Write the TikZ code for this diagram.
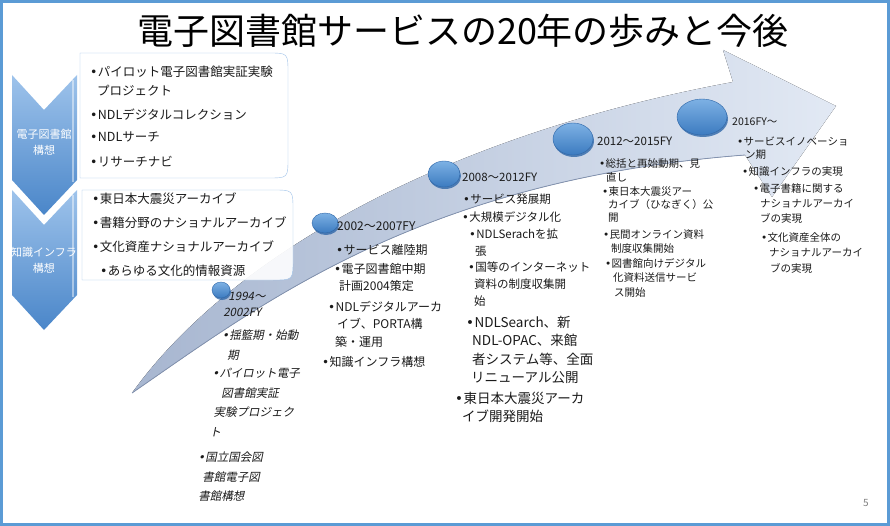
\documentclass[tikz,border=0pt]{standalone}
\usepackage{fontspec}
\setmainfont{Noto Sans CJK JP}
\newfontfamily\dv{DejaVu Sans}
\usetikzlibrary{shapes.geometric,positioning}
\definecolor{frameblue}{HTML}{5B9BD5}
\definecolor{ink}{HTML}{1A1A1A}
\definecolor{bandA}{HTML}{A7B6D0}
\definecolor{bandB}{HTML}{E2E9F4}
\definecolor{bandC}{HTML}{8393B0}
\definecolor{chevA}{HTML}{9EC3EB}
\definecolor{chevB}{HTML}{4A86C9}
\definecolor{boxline}{HTML}{9CC0E8}
\definecolor{discA}{HTML}{7DB1E4}
\definecolor{discB}{HTML}{3C7BC0}
\definecolor{discC}{HTML}{2F67A8}
\newcommand\bu{\makebox[0.62em][l]{\dv •}}
\tikzset{
  txt/.style={anchor=north west,inner sep=0pt,align=left,text=ink},
  boxtxt/.style={txt,font=\fontsize{12.5}{19}\selectfont},
  eraI/.style={txt,xslant=0.2,font=\fontsize{11.5}{19.5}\selectfont},
  eraA/.style={txt,font=\fontsize{12}{17.5}\selectfont},
  eraB/.style={txt,font=\fontsize{11.5}{17}\selectfont},
  eraBig/.style={txt,font=\fontsize{13.5}{18.3}\selectfont},
  eraS/.style={txt,font=\fontsize{10.5}{14.5}\selectfont},
  chevtxt/.style={align=center,inner sep=0pt,text=white,font=\fontsize{11}{16}\selectfont},
  disc/.style={ellipse,inner sep=0pt,top color=discA,bottom color=discB,draw=discC,line width=.4pt},
}
\begin{document}
\begin{tikzpicture}[x=1pt,y=-1pt]
\useasboundingbox (0,0) rectangle (890,526);
\draw[frameblue,line width=3pt] (1.5,1.5) rectangle (888.5,524.5);
% arrow band
\fill[left color=bandA,right color=bandB] (132,393) .. controls (220,270) and (420,140) .. (733,82)
  -- (723,50) -- (836,106) -- (772,197) -- (745,155) .. controls (420,180) and (260,305) .. (132,393) -- cycle;
\draw[bandC,line width=.8pt] (745,155) .. controls (420,180) and (260,305) .. (132,393);
% chevrons
\foreach \t in {75,190}{
  \shade[top color=chevA,bottom color=chevB] (12,\t) -- (44,\t+35) -- (77,\t) -- (77,\t+105) -- (44,\t+140) -- (12,\t+105) -- cycle;
  \draw[white,opacity=.45,line width=1.5pt] (73,\t+5) -- (73,\t+107);
}
\node[chevtxt] (lab1) at (44,142) {電子図書館\\構想};
\node[chevtxt] (lab2) at (44,260) {知識インフラ\\構想};
% boxes
\draw[boxline,fill=white] (80,178) -- (80,53) -- (268,53) .. controls (288,53) .. (288,73) -- (288,158) .. controls (288,178) .. (268,178) -- cycle;
\draw[boxline,fill=white,fill opacity=.9] (82,280) -- (82,190) -- (273,190) .. controls (293,190) .. (293,210) -- (293,260) .. controls (293,280) .. (273,280) -- cycle;
\node[boxtxt] (b1a) at (90,66) {\bu パイロット電子図書館実証実験\\\hspace*{7pt}プロジェクト};
\node[boxtxt] (b1b) at (90,109) {\bu NDLデジタルコレクション};
\node[boxtxt] (b1c) at (90,132) {\bu NDLサーチ};
\node[boxtxt] (b1d) at (90,156) {\bu リサーチナビ};
\node[boxtxt] (b2a) at (92,193) {\bu 東日本大震災アーカイブ};
\node[boxtxt] (b2b) at (92,217) {\bu 書籍分野のナショナルアーカイブ};
\node[boxtxt] (b2c) at (92,241) {\bu 文化資産ナショナルアーカイブ};
\node[boxtxt] (b2d) at (100,265) {\bu あらゆる文化的情報資源};
% discs
\foreach \nm/\cx/\cy/\w/\h in {1994/221/290/18/16,2002/325/223/26/20,2008/444/174/32/26,2012/573/139/40/32,2016/702/117/50/36}{
  \fill[discC,opacity=.8] (\cx+1,\cy+2) ellipse [x radius=\w/2, y radius=\h/2];
  \node[disc,minimum width=\w pt,minimum height=\h pt] (d\nm) at (\cx,\cy) {};
}
% 1994
\node[eraI,font=\fontsize{11.5}{16}\selectfont] (y1994) at (225,292) {\hspace*{5pt}1994～\\\hspace*{3pt}2002FY};
\node[eraI] (e1994a) at (224,330) {\bu 揺籃期・始動\\\hspace*{9pt}期};
\node[eraI] (e1994b) at (212,368) {\hspace*{2pt}\bu パイロット電子\\\hspace*{15pt}図書館実証\\\hspace*{11pt}実験プロジェク\\\hspace*{11pt}ト};
\node[eraI] (e1994c) at (200,452) {\bu 国立国会図\\\hspace*{8pt}書館電子図\\\hspace*{8pt}書館構想};
% 2002
\node[eraA] (y2002) at (337,222) {2002～2007FY};
\node[eraA] (e2002a) at (336,244) {\bu サービス離陸期};
\node[eraA] (e2002b) at (334,263) {\bu 電子図書館中期\\\hspace*{5pt}計画2004策定};
\node[eraA] (e2002c) at (328,301) {\bu NDLデジタルアーカ\\\hspace*{9pt}イブ、PORTA構\\\hspace*{7pt}築・運用};
\node[eraA] (e2002d) at (322,356) {\bu 知識インフラ構想};
% 2008
\node[eraB] (y2008) at (462,173) {2008～2012FY};
\node[eraB] (e2008a) at (463,194) {\bu サービス発展期};
\node[eraB] (e2008b) at (462,212) {\bu 大規模デジタル化};
\node[eraB] (e2008c) at (469,229) {\bu NDLSerachを拡\\\hspace*{6pt}張};
\node[eraB] (e2008d) at (468,262) {\bu 国等のインターネット\\\hspace*{6pt}資料の制度収集開\\\hspace*{6pt}始};
\node[eraBig] (e2008e) at (466,316) {\bu NDLSearch、新\\\hspace*{6pt}NDL-OPAC、来館\\\hspace*{6pt}者システム等、全面\\\hspace*{5pt}リニューアル公開};
\node[eraBig] (e2008f) at (455,392) {\bu 東日本大震災アーカ\\\hspace*{7pt}イブ開発開始};
% 2012
\node[eraS,font=\fontsize{11.5}{14}\selectfont] (y2012) at (597,137) {2012～2015FY};
\node[eraS] (e2012a) at (599,158) {\bu 総括と再始動期、見\\\hspace*{7pt}直し};
\node[eraS,font=\fontsize{10.5}{13}\selectfont] (e2012b) at (602,186) {\bu 東日本大震災アー\\\hspace*{6pt}カイブ（ひなぎく）公\\\hspace*{6pt}開};
\node[eraS] (e2012c) at (603,229) {\bu 民間オンライン資料\\\hspace*{8pt}制度収集開始};
\node[eraS] (e2012d) at (605,258) {\bu 図書館向けデジタル\\\hspace*{8pt}化資料送信サービ\\\hspace*{9pt}ス開始};
% 2016
\node[eraS] (y2016) at (732,118) {2016FY～};
\node[eraS,font=\fontsize{10.5}{13}\selectfont] (e2016a) at (737,137) {\bu サービスイノベーショ\\\hspace*{8pt}ン期};
\node[eraS] (e2016b) at (742,166) {\bu 知識インフラの実現};
\node[eraS,font=\fontsize{10.5}{15}\selectfont] (e2016c) at (753,183) {\bu 電子書籍に関する\\\hspace*{7pt}ナショナルアーカイ\\\hspace*{7pt}ブの実現};
\node[eraS,font=\fontsize{10.5}{15.5}\selectfont] (e2016d) at (761,232) {\bu 文化資産全体の\\\hspace*{8pt}ナショナルアーカイ\\\hspace*{9pt}ブの実現};
% title and page
\node[font=\fontsize{36}{36}\selectfont,text=black] (title) at (463,31) {電子図書館サービスの20年の歩みと今後};
\node[font=\fontsize{10}{10}\selectfont,text=gray] (pgno) at (866,503) {5};
\end{tikzpicture}
\end{document}
